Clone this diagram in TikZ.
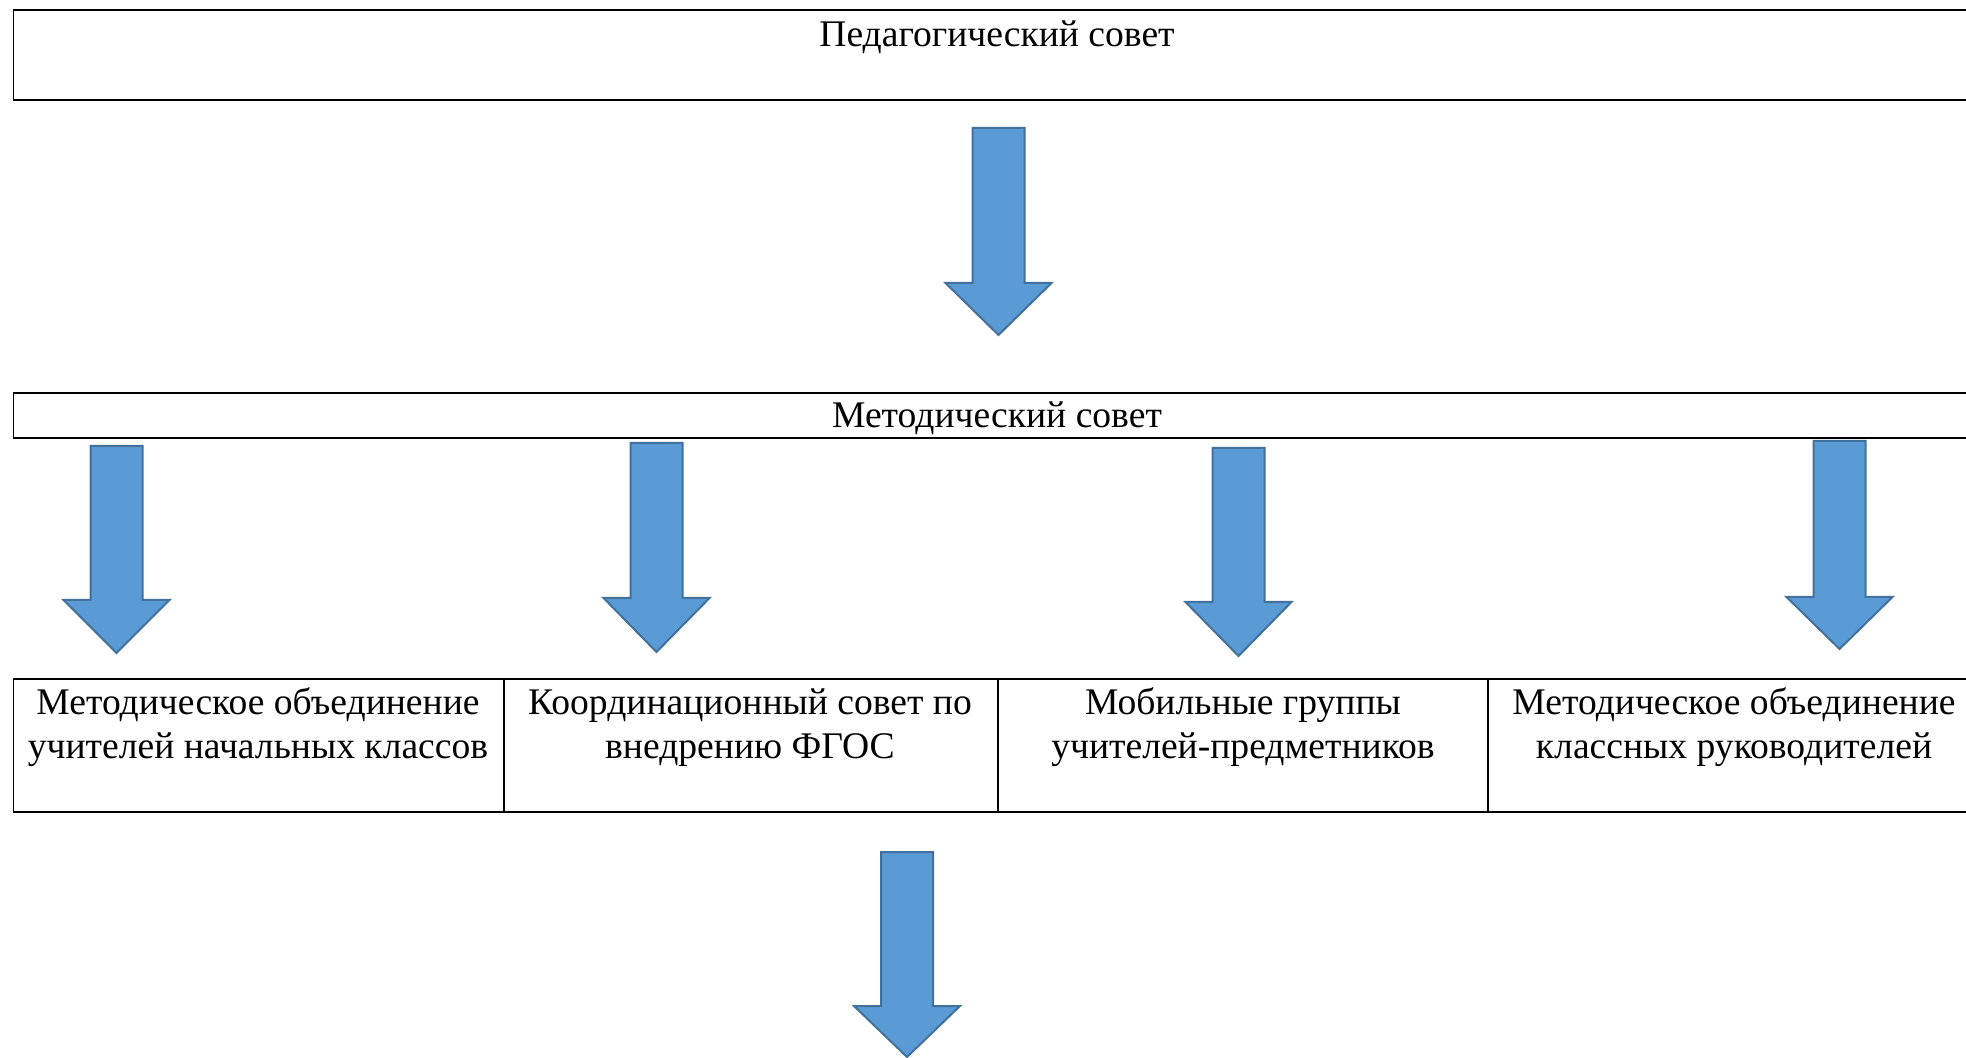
\documentclass[tikz,border=0pt]{standalone}
\usepackage{fontspec}
\setmainfont{Liberation Serif}
\usetikzlibrary{positioning}
\definecolor{arrowfill}{HTML}{5B9BD5}
\definecolor{arrowline}{HTML}{41719C}
\tikzset{
	box/.style = {draw, line width = 0.85pt, rectangle, anchor = north west, inner sep = 0pt},
	boxtext/.style = {align = center, inner sep = 0pt, font = \fontsize{18.8}{22.3}\selectfont},
	blockarrow/.style = {fill = arrowfill, draw = arrowline, line width = 1pt, line join = miter}
}
% #1 centre, #2 top, #3 start of head, #4 tip
\newcommand{\downblock}[4]{
	\draw [blockarrow] (#1 - 26, #2) -- (#1 + 26, #2) -- (#1 + 26, #3) -- (#1 + 53, #3)
		-- (#1, #4) -- (#1 - 53, #3) -- (#1 - 26, #3) -- cycle ;
}
\begin{document}
\begin{tikzpicture} [x = 0.5pt, y = -0.5pt]
	\useasboundingbox (0, 0) rectangle (1966, 1058) ;
	\clip (0, 0) rectangle (1966, 1058) ;
	
	\node [box, minimum width = 983pt, minimum height = 45pt] (ped) at (12.5, 9) {} ;
	\node [boxtext, anchor = base] (pedtext) at (997, 47) {Педагогический совет} ;
	
	\node [box, minimum width = 983pt, minimum height = 22.5pt] (met) at (12.5, 392) {} ;
	\node [boxtext, anchor = base] (mettext) at (997, 428) {Методический совет} ;
	
	\node [box, minimum width = 245.25pt, minimum height = 66.5pt] (mo1) at (12.5, 678) {} ;
	\node [box, minimum width = 247pt, minimum height = 66.5pt] (ks) at (503, 678) {} ;
	\node [box, minimum width = 245pt, minimum height = 66.5pt] (mg) at (997, 678) {} ;
	\node [box, minimum width = 245.5pt, minimum height = 66.5pt] (mo2) at (1487, 678) {} ;
	
	\node [boxtext, anchor = base] (mo1text) at (258, 759) {Методическое объединение\\учителей начальных классов} ;
	\node [boxtext, anchor = base] (kstext) at (750, 759) {Координационный совет по\\внедрению ФГОС} ;
	\node [boxtext, anchor = base] (mgtext) at (1243, 759) {Мобильные группы\\учителей-предметников} ;
	\node [boxtext, anchor = base] (mo2text) at (1734, 759) {Методическое объединение\\классных руководителей} ;
	
	\downblock{998.5}{128}{283}{335}
	\downblock{116.5}{446}{600}{653}
	\downblock{656.5}{443}{598}{652}
	\downblock{1238.5}{448}{602}{656}
	\downblock{1839.5}{441}{597}{649}
	\downblock{907}{852}{1006}{1057}
	
\end{tikzpicture}
\end{document}
